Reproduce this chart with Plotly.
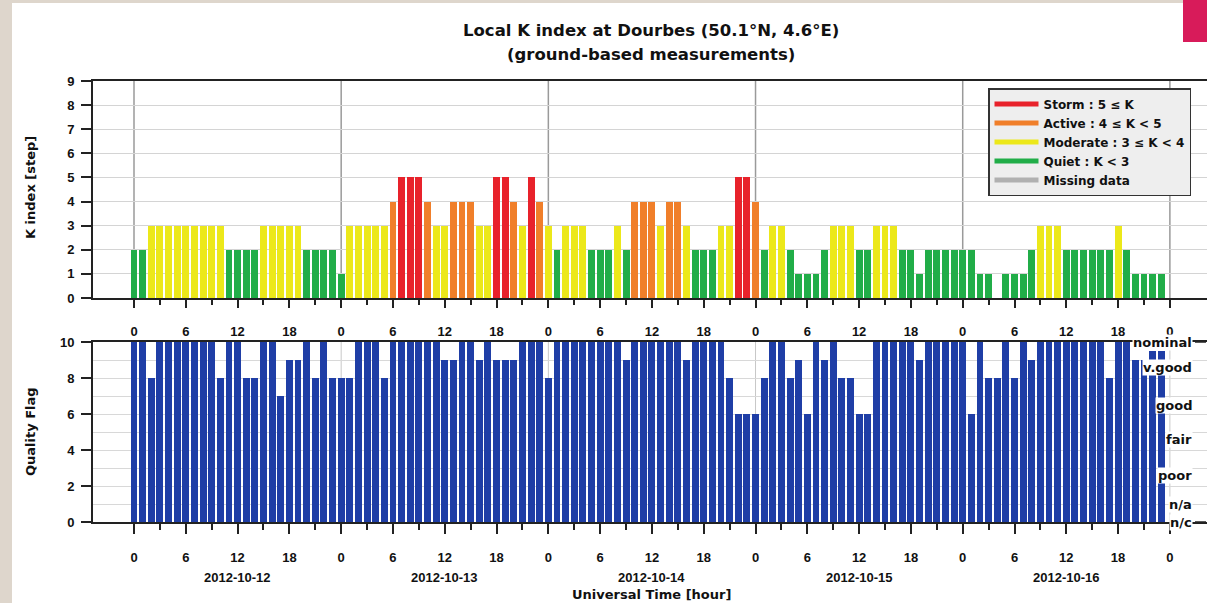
import plotly.graph_objects as go

# ---------------- data ----------------
days = ["2012-10-12", "2012-10-13", "2012-10-14", "2012-10-15", "2012-10-16"]
hours_per_day = 24
hours = list(range(len(days) * hours_per_day))  # hourly bins, hour 0 = 2012-10-12 00 UT

# local K index, hourly (None = missing)
k_index = (
    [2, 2, 3, 3, 3, 3, 3, 3, 3, 3, 3, 2, 2, 2, 2, 3, 3, 3, 3, 3, 2, 2, 2, 2]
    + [1, 3, 3, 3, 3, 3, 4, 5, 5, 5, 4, 3, 3, 4, 4, 4, 3, 3, 5, 5, 4, 3, 5, 4]
    + [3, 2, 3, 3, 3, 2, 2, 2, 3, 2, 4, 4, 4, 3, 4, 4, 3, 2, 2, 2, 3, 3, 5, 5]
    + [4, 2, 3, 3, 2, 1, 1, 1, 2, 3, 3, 3, 2, 2, 3, 3, 3, 2, 2, 1, 2, 2, 2, 2]
    + [2, 2, 1, 1, None, 1, 1, 1, 2, 3, 3, 3, 2, 2, 2, 2, 2, 2, 3, 2, 1, 1, 1, 1]
)

# quality flag, hourly
quality = (
    [10, 10, 8, 10, 10, 10, 10, 10, 10, 10, 8, 10, 10, 8, 8, 10, 10, 7, 9, 9, 10, 8, 10, 8]
    + [8, 8, 10, 10, 10, 8, 10, 10, 10, 10, 10, 10, 9, 9, 10, 10, 9, 10, 9, 9, 9, 10, 10, 10]
    + [8, 10, 10, 10, 10, 10, 10, 10, 10, 9, 10, 10, 10, 10, 10, 10, 9, 10, 10, 10, 10, 8, 6, 6]
    + [6, 8, 10, 10, 8, 9, 6, 10, 9, 10, 8, 8, 6, 6, 10, 10, 10, 10, 10, 9, 10, 10, 10, 10]
    + [10, 6, 10, 8, 8, 10, 8, 10, 9, 10, 10, 10, 10, 10, 10, 10, 10, 8, 10, 10, 9, 9, 9.5, 9.5]
)

legend_names = ["Storm : 5 \u2264 K", "Active : 4 \u2264 K < 5", "Moderate : 3 \u2264 K < 4",
                "Quiet : K < 3", "Missing data"]
legend_colors = ["#e8222b", "#f07f2a", "#ece81a", "#21ad48", "#b0b0b0"]

quality_labels = ["nominal", "v.good", "good", "fair", "poor", "n/a", "n/c"]
quality_label_values = [10, 8.6, 6.5, 4.6, 2.6, 1.0, 0]

# ---------------- styling ----------------
W, H = 1207, 603
FONT = "Liberation Sans, Arial, Helvetica, sans-serif"
WIDE = "DejaVu Sans, Liberation Sans, sans-serif"
BLUE = "#1f3ea6"


def k_color(k):
    if k is None:
        return legend_colors[4]
    if k >= 5:
        return legend_colors[0]
    if k >= 4:
        return legend_colors[1]
    if k >= 3:
        return legend_colors[2]
    return legend_colors[3]


def px_x(p):
    return p / W


def px_y(p):
    return 1 - p / H


fig = go.Figure()

fig.add_trace(go.Bar(x=hours, y=k_index, width=0.8,
                     marker=dict(color=[k_color(k) for k in k_index], line=dict(width=0)),
                     showlegend=False, xaxis="x", yaxis="y"))
fig.add_trace(go.Bar(x=hours, y=quality, width=0.8,
                     marker=dict(color=BLUE, line=dict(width=0)),
                     showlegend=False, xaxis="x2", yaxis="y2"))

for name, col in zip(legend_names, legend_colors):
    fig.add_trace(go.Scatter(x=[None], y=[None], mode="lines", name=name,
                             line=dict(color=col, width=5), xaxis="x", yaxis="y"))

n_hours = len(hours)
major_vals = list(range(0, n_hours + 1, 6))
major_text = [str(v % hours_per_day) for v in major_vals]
xrange = [-4.75, 124.3]
xdomain = [px_x(93), 1.0]

tickfont = dict(family=FONT, size=13, color="#111", weight="bold")

common_x = dict(range=xrange, domain=xdomain, tickvals=major_vals, ticktext=major_text,
                ticks="outside", tickcolor="#222", tickwidth=1.5, automargin=False,
                showgrid=False, zeroline=False, showline=True, linecolor="#222", linewidth=2,
                mirror=True, tickfont=tickfont,
                minor=dict(tickvals=list(range(0, n_hours + 1, 3)), ticks="outside",
                           tickcolor="#222", tickwidth=1.5, showgrid=False))

fig.update_layout(
    width=W, height=H,
    margin=dict(l=0, r=0, t=0, b=0, pad=0, autoexpand=False),
    paper_bgcolor="white", plot_bgcolor="white",
    bargap=0,
    xaxis=dict(**common_x, anchor="y", ticklen=8, ticklabelstandoff=12),
    yaxis=dict(range=[0, 9], domain=[px_y(298), px_y(81)], anchor="x", automargin=False,
               tickvals=list(range(0, 10)), ticks="outside", ticklen=10, tickwidth=1.5,
               tickcolor="#222", showgrid=True, gridcolor="#d4d4d4", gridwidth=1,
               showline=True, linecolor="#222", linewidth=2, zeroline=False,
               tickfont=tickfont, ticklabelstandoff=4),
    xaxis2=dict(**common_x, anchor="y2", ticklen=10, ticklabelstandoff=12),
    yaxis2=dict(range=[0, 10], domain=[px_y(522), px_y(342)], anchor="x2", automargin=False,
                tickvals=list(range(0, 11, 2)), ticks="outside", ticklen=10, tickwidth=1.5,
                tickcolor="#222", showgrid=True, gridcolor="#d8d8d8", gridwidth=1,
                minor=dict(dtick=1, showgrid=True, gridcolor="#d8d8d8"),
                showline=True, linecolor="#222", linewidth=2, zeroline=False,
                tickfont=tickfont, ticklabelstandoff=4),
    legend=dict(x=px_x(988), y=px_y(88), xanchor="left", yanchor="top",
                bgcolor="#eeeeee", bordercolor="#333", borderwidth=1.5,
                font=dict(family=WIDE, size=12, color="#111", weight="bold"),
                itemwidth=44, tracegroupgap=0),
)

shapes = []
# day boundary lines
for i in range(len(days) + 1):
    shapes.append(dict(type="line", xref="x", yref="y domain", x0=i * hours_per_day,
                       x1=i * hours_per_day, y0=0, y1=1, line=dict(color="#9a9a9a", width=1.5),
                       layer="below"))
    shapes.append(dict(type="line", xref="x2", yref="y2 domain", x0=i * hours_per_day,
                       x1=i * hours_per_day, y0=0, y1=1, line=dict(color="#c8c8c8", width=1),
                       layer="below"))
# right-hand dashes of quality scale
for v in (quality_label_values[0], quality_label_values[-1]):
    shapes.append(dict(type="line", xref="paper", yref="y2", x0=px_x(1195), x1=px_x(1206),
                       y0=v, y1=v, line=dict(color="#222", width=1.5)))
# page decoration
shapes.append(dict(type="rect", xref="paper", yref="paper", x0=0, x1=px_x(12), y0=0, y1=1,
                   fillcolor="#ded6cc", line=dict(width=0)))
shapes.append(dict(type="rect", xref="paper", yref="paper", x0=0, x1=1, y0=px_y(3), y1=1,
                   fillcolor="#ded6cc", line=dict(width=0)))
shapes.append(dict(type="rect", xref="paper", yref="paper", x0=px_x(1183), x1=1, y0=px_y(42),
                   y1=1, fillcolor="#d81b5a", line=dict(width=0)))
fig.update_layout(shapes=shapes)

ann = []
C = dict(xanchor="center", yanchor="middle", showarrow=False)
titlefont = dict(family=WIDE, size=16.5, color="#111", weight="bold")
ann.append(dict(text="Local K index at Dourbes (50.1\u00b0N, 4.6\u00b0E)", xref="paper", yref="paper",
                x=px_x(651), y=px_y(31), font=titlefont, **C))
ann.append(dict(text="(ground-based measurements)", xref="paper", yref="paper",
                x=px_x(651), y=px_y(54), font=titlefont, **C))
labfont = dict(family=WIDE, size=13, color="#111", weight="bold")
ann.append(dict(text="K index [step]", xref="paper", yref="paper", x=px_x(30), y=px_y(188),
                textangle=-90, font=labfont, **C))
ann.append(dict(text="Quality Flag", xref="paper", yref="paper", x=px_x(30), y=px_y(432),
                textangle=-90, font=labfont, **C))
ann.append(dict(text="Universal Time [hour]", xref="paper", yref="paper", x=px_x(651),
                y=px_y(594), font=labfont, **C))
datefont = dict(family=FONT, size=13, color="#111", weight="bold")
for i, d in enumerate(days):
    ann.append(dict(text=d, xref="x2", yref="paper", x=i * hours_per_day + hours_per_day / 2,
                    y=px_y(577), font=datefont, **C))
qfont = dict(family=WIDE, size=13, color="#111", weight="bold")
for lab, v in zip(quality_labels, quality_label_values):
    ann.append(dict(text=lab, xref="paper", yref="y2", x=px_x(1193), y=v, xanchor="right",
                    yanchor="middle", showarrow=False, font=qfont, bgcolor="white", borderpad=0))
fig.update_layout(annotations=ann)

fig.write_html("out.html")
